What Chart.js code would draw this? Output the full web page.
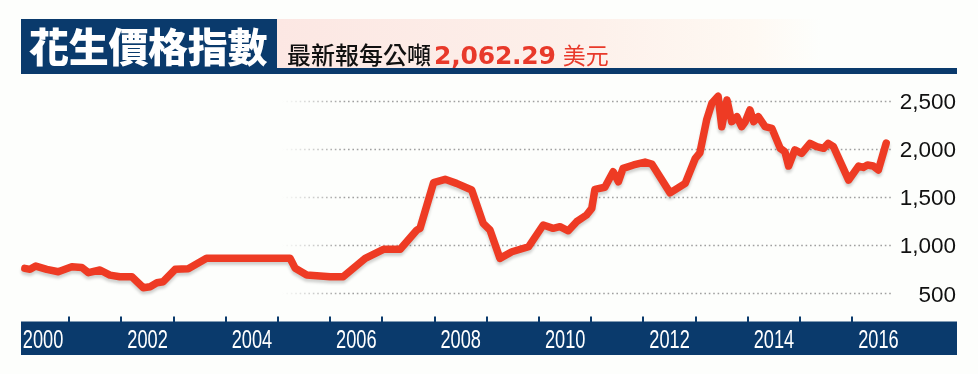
<!DOCTYPE html>
<html>
<head>
<meta charset="utf-8">
<script src="https://cdn.jsdelivr.net/npm/chart.js@4/dist/chart.umd.min.js"></script>
<style>
  html, body { margin: 0; padding: 0; background: #fdfefc; }
  .wrap { position: relative; width: 978px; height: 374px; overflow: hidden; }
  #chart { position: absolute; left: 0; top: 0; }
  .title-box {
    position: absolute; left: 21px; top: 19px; width: 256px; height: 55px;
    background: #0a3a6c; color: #fff;
    font-family: "Noto Sans CJK TC", "Noto Sans CJK SC", sans-serif;
    font-weight: 900; font-size: 40px; line-height: 53px;
    padding-left: 8px; box-sizing: border-box; white-space: nowrap; letter-spacing: -0.3px;
  }
  .sub-box {
    position: absolute; left: 277px; top: 19px; width: 680px; height: 49px;
    background: linear-gradient(to right, #fce7e3 0%, #fdf0ea 45%, #fef9f3 70%, #fdfefc 80%);
  }
  .sub-text {
    position: absolute; left: 287px; top: 40px; height: 28px; line-height: 28px;
    white-space: nowrap;
  }
  .sub-text .a { font-family: "Noto Sans CJK TC", sans-serif; font-weight: 500; font-size: 24px; color: #111; }
  .sub-text .b { font-family: "DejaVu Sans", sans-serif; font-weight: bold; font-size: 25px; color: #e8392a; margin-left: 3px; letter-spacing: -0.2px; }
  .sub-text .c { font-family: "Noto Sans CJK TC", sans-serif; font-size: 23px; color: #e8392a; margin-left: 7px; }
  .rule { position: absolute; left: 21px; top: 68px; width: 936px; height: 6px; background: #0a3a6c; }
</style>
</head>
<body>
<div class="wrap">
  <canvas id="chart" width="978" height="374"></canvas>
  <div class="sub-box"></div>
  <div class="rule"></div>
  <div class="title-box">花生價格指數</div>
  <div class="sub-text"><span class="a">最新報每公噸</span><span class="b">2,062.29</span><span class="c">美元</span></div>
</div>
<script>
const dates = [
  2000.15, 2000.25, 2000.36, 2000.57, 2000.79, 2001.05, 2001.24, 2001.37, 2001.59, 2001.78,
  2001.97, 2002.20, 2002.42, 2002.55, 2002.68, 2002.80, 2003.03, 2003.28, 2003.63, 2005.23,
  2005.33, 2005.55, 2006.00, 2006.25, 2006.67, 2007.02, 2007.34, 2007.66, 2007.72, 2007.98,
  2008.20, 2008.42, 2008.71, 2008.93, 2009.06, 2009.25, 2009.48, 2009.80, 2010.08, 2010.27,
  2010.40, 2010.56, 2010.72, 2010.91, 2011.01, 2011.07, 2011.26, 2011.42, 2011.52, 2011.61,
  2011.81, 2012.03, 2012.16, 2012.51, 2012.80, 2012.99, 2013.08, 2013.21, 2013.31, 2013.43,
  2013.50, 2013.60, 2013.69, 2013.79, 2013.88, 2013.95, 2014.04, 2014.11, 2014.20, 2014.33,
  2014.46, 2014.62, 2014.71, 2014.78, 2014.90, 2015.03, 2015.19, 2015.32, 2015.45, 2015.54,
  2015.64, 2015.93, 2016.12, 2016.21, 2016.29, 2016.40, 2016.50, 2016.65
];
const prices = [
  760, 750, 784, 750, 725, 777, 770, 715, 743, 690,
  673, 673, 558, 569, 610, 621, 750, 755, 865, 865,
  760, 690, 673, 673, 864, 958, 958, 1159, 1176, 1651,
  1686, 1644, 1575, 1228, 1159, 864, 933, 985, 1211, 1176,
  1193, 1151, 1245, 1315, 1384, 1582, 1603, 1765, 1661, 1800,
  1835, 1865, 1845, 1545, 1644, 1900, 1960, 2303, 2476, 2550,
  2233, 2511, 2285, 2337, 2233, 2285, 2407, 2285, 2337, 2233,
  2216, 2008, 1973, 1824, 1991, 1956, 2060, 2025, 2008, 2060,
  2025, 1678, 1824, 1810, 1835, 1824, 1783, 2062
];
const yTicks = [500, 1000, 1500, 2000, 2500];
const yearTicks = [2001, 2002, 2003, 2004, 2005, 2006, 2007, 2008, 2009, 2010, 2011, 2012, 2013, 2014, 2015, 2016];
const yearLabels = [2000, 2002, 2004, 2006, 2008, 2010, 2012, 2014, 2016];

const navy = '#0a3a6c';
const lineRed = '#ee3b24';

// grid, y labels and the year bar are drawn by hand from the chart's scales
const decorPlugin = {
  id: 'decor',
  beforeDatasetsDraw(chart) {
    const { ctx, scales: { x, y } } = chart;
    const gridStart = 282;
    const gridEnd = 893;

    ctx.save();
    const fade = ctx.createLinearGradient(gridStart, 0, gridStart + 60, 0);
    fade.addColorStop(0, 'rgba(160,160,160,0)');
    fade.addColorStop(1, 'rgba(160,160,160,1)');
    ctx.strokeStyle = fade;
    ctx.lineWidth = 1.6;
    ctx.setLineDash([1.6, 2.8]);
    yTicks.forEach((v) => {
      const py = Math.round(y.getPixelForValue(v)) + 0.5;
      ctx.beginPath();
      ctx.moveTo(gridStart, py);
      ctx.lineTo(gridEnd, py);
      ctx.stroke();
    });
    ctx.setLineDash([]);

    ctx.fillStyle = '#111';
    ctx.font = '22.5px "Liberation Sans", Arial, sans-serif';
    ctx.textAlign = 'right';
    ctx.textBaseline = 'middle';
    yTicks.forEach((v) => {
      ctx.fillText(v.toLocaleString('en-US'), 956, y.getPixelForValue(v) + 2);
    });

    // year bar
    ctx.fillStyle = navy;
    ctx.fillRect(21, 321.5, 936, 33.5);
    yearTicks.forEach((yr) => {
      const px = Math.round(x.getPixelForValue(yr));
      ctx.fillRect(px - 1, 316.5, 2, 6);
    });

    ctx.fillStyle = '#fff';
    ctx.font = '26px "Liberation Sans", Arial, sans-serif';
    ctx.textAlign = 'center';
    ctx.textBaseline = 'middle';
    yearLabels.forEach((yr) => {
      const cx = x.getPixelForValue(yr + 0.5);
      ctx.save();
      ctx.translate(cx, 341);
      ctx.scale(0.7, 1);
      ctx.fillText(String(yr), 0, 0);
      ctx.restore();
    });
    ctx.restore();
  },
  beforeDatasetDraw(chart) {
    const ctx = chart.ctx;
    ctx.save();
    ctx.shadowColor = 'rgba(0,0,0,0.18)';
    ctx.shadowBlur = 3;
    ctx.shadowOffsetY = 3;
  },
  afterDatasetDraw(chart) {
    chart.ctx.restore();
  }
};

new Chart(document.getElementById('chart'), {
  type: 'line',
  data: {
    datasets: [{
      data: dates.map((d, i) => ({ x: d, y: prices[i] })),
      borderColor: lineRed,
      borderWidth: 7.5,
      borderCapStyle: 'round',
      borderJoinStyle: 'round',
      pointRadius: 0,
      tension: 0,
      fill: false
    }]
  },
  options: {
    responsive: false,
    animation: false,
    devicePixelRatio: 1,
    layout: { padding: { left: 17, right: 85, top: 81.8, bottom: 56.6 } },
    plugins: { legend: { display: false }, tooltip: { enabled: false } },
    scales: {
      x: { type: 'linear', min: 2000, max: 2016.78, display: false },
      y: { type: 'linear', min: 250, max: 2700, display: false }
    }
  },
  plugins: [decorPlugin]
});
</script>
</body>
</html>
